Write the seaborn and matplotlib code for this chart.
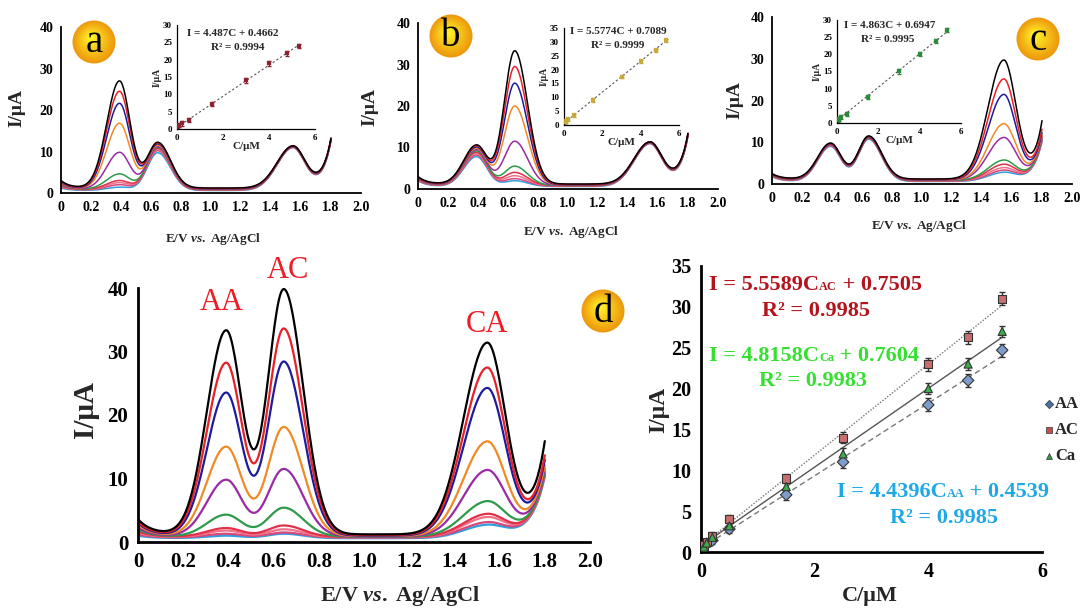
import numpy as np
import pandas as pd
import matplotlib
matplotlib.use("Agg")
import matplotlib.pyplot as plt
from matplotlib.patches import Circle
import seaborn as sns

# ---------------- data ----------------
curve_ids = ["c1", "c2", "c3", "c4", "c5", "c6", "c7", "c8", "c9", "c10"]
curve_colors = ["#000000", "#e8202a", "#1c1c9c", "#f08a24", "#9a2aa6",
                "#2e9a4a", "#e0304a", "#f07088", "#d84878", "#2f9fe0"]

# peak currents (µA) of each curve at AA (0.39 V), AC (0.645 V), CA (1.545 V)
a_AA = [27.0, 24.5, 21.6, 16.8, 9.8, 4.6, 3.0, 2.5, 2.0, 1.4]
a_AC = [12.2, 12.0, 11.8, 11.5, 11.2, 11.0, 10.8, 10.5, 10.2, 9.7]
a_CA = [11.2, 11.2, 11.1, 11.1, 11.0, 11.0, 10.9, 10.9, 10.8, 10.8]
a_start = [3.0, 2.8, 2.6, 2.4, 2.2, 2.0, 1.8, 1.6, 1.4, 1.2]
a_end = [13.2, 13.1, 13.0, 13.0, 12.9, 12.9, 12.8, 12.8, 12.7, 12.6]

b_AA = [10.6, 10.4, 10.1, 9.8, 9.5, 9.2, 8.9, 8.6, 8.2, 7.8]
b_AC = [33.3, 29.5, 25.5, 20.0, 11.5, 5.5, 4.0, 3.2, 2.5, 2.0]
b_CA = [11.2, 11.2, 11.1, 11.1, 11.0, 11.0, 10.9, 10.9, 10.8, 10.8]
b_start = [3.0, 2.9, 2.8, 2.7, 2.6, 2.5, 2.4, 2.3, 2.1, 2.0]
b_end = [13.4, 13.3, 13.2, 13.2, 13.1, 13.0, 13.0, 12.9, 12.9, 12.8]

c_AA = [9.8, 9.7, 9.6, 9.6, 9.5, 9.5, 9.4, 9.3, 9.2, 9.0]
c_AC = [11.5, 11.4, 11.3, 11.3, 11.2, 11.1, 11.0, 11.0, 10.9, 10.7]
c_CA = [29.5, 25.0, 21.3, 14.3, 11.0, 5.6, 4.6, 3.8, 3.2, 2.7]
c_start = [2.5, 2.4, 2.3, 2.2, 2.2, 2.1, 2.0, 1.9, 1.9, 1.8]
c_end = [15.0, 13.0, 12.2, 11.8, 11.4, 11.0, 10.8, 10.6, 10.4, 10.2]

d_AA = [33.3, 28.2, 23.5, 15.0, 9.8, 4.3, 2.2, 1.8, 1.3, 1.0]
d_AC = [39.8, 33.6, 28.4, 18.1, 11.5, 5.4, 2.6, 2.0, 1.5, 1.3]
d_CA = [31.2, 27.3, 24.1, 15.7, 11.2, 6.3, 4.3, 3.8, 3.0, 2.6]
d_start = [3.6, 3.2, 3.0, 2.7, 2.3, 2.0, 1.7, 1.5, 1.2, 1.0]
d_end = [15.7, 13.5, 12.8, 12.0, 11.5, 11.0, 10.8, 10.6, 10.5, 10.3]

floor_level = [1.2, 1.1, 1.0, 0.95, 0.9, 0.85, 0.8, 0.75, 0.7, 0.6]

# calibration plot (d, right)
conc = [0.05, 0.1, 0.2, 0.5, 1.5, 2.5, 4.0, 4.7, 5.3]
I_AA = [0.7, 1.0, 1.4, 2.8, 7.0, 11.0, 18.0, 21.0, 24.7]
I_AC = [0.8, 1.2, 2.0, 4.0, 9.0, 14.0, 23.0, 26.3, 31.0]
I_Ca = [0.6, 1.1, 1.8, 3.2, 8.0, 12.0, 20.0, 23.0, 27.0]
err_AA = [0.2, 0.3, 0.4, 0.5, 0.6, 0.7, 0.8, 0.8, 0.8]
err_AC = [0.2, 0.3, 0.4, 0.5, 0.6, 0.7, 0.8, 0.8, 0.8]
err_Ca = [0.2, 0.3, 0.4, 0.5, 0.6, 0.7, 0.7, 0.7, 0.7]
fit_AA = (4.4396, 0.4539)
fit_AC = (5.5589, 0.7505)
fit_Ca = (4.8158, 0.7604)

# insets
inset_conc = [0.05, 0.1, 0.2, 0.5, 1.5, 3.0, 4.0, 4.8, 5.3]
ins_a = [0.5, 1.2, 1.6, 2.5, 7.2, 14.0, 18.9, 21.8, 24.0]
ins_b = [1.0, 1.5, 2.0, 3.5, 9.0, 17.5, 23.0, 27.0, 30.5]
ins_c = [0.8, 1.2, 1.8, 2.7, 7.6, 15.0, 20.0, 24.0, 27.0]
ins_fit_a = (4.487, 0.4662)
ins_fit_b = (5.5774, 0.7089)
ins_fit_c = (4.863, 0.6947)

# ---------------- style ----------------
sns.set_style("white")
plt.rcParams["font.family"] = ["Liberation Serif", "DejaVu Serif"]
plt.rcParams["font.weight"] = "bold"
plt.rcParams["mathtext.fontset"] = "custom"
plt.rcParams["mathtext.rm"] = "Liberation Serif:bold"
plt.rcParams["mathtext.bf"] = "Liberation Serif:bold"
plt.rcParams["mathtext.it"] = "Liberation Serif:italic"

W, H = 1080, 610
fig = plt.figure(figsize=(10.8, 6.1), dpi=100)


def px_axes(x0, y0, x1, y1):
    return fig.add_axes([x0 / W, 1 - y1 / H, (x1 - x0) / W, (y1 - y0) / H])


E = np.linspace(0, 1.8, 400)


def peak(x, c, h, sl, sr):
    s = np.where(x < c, sl, sr)
    return h * np.exp(-(x - c) ** 2 / (2 * s ** 2))


def build_df(AA, AC, CA, start, end):
    rows = []
    for i, cid in enumerate(curve_ids):
        f = floor_level[i]
        base = f + (start[i] - f) * np.exp(-E / 0.06) + (end[i] - f) * np.exp((E - 1.8) / 0.06)
        y = (base + peak(E, 0.39, max(AA[i] - f, 0), 0.085, 0.07)
             + peak(E, 0.645, max(AC[i] - f, 0), 0.07, 0.085)
             + peak(E, 1.545, max(CA[i] - f, 0), 0.105, 0.08))
        rows.append(pd.DataFrame({"E": E, "I": y, "curve": cid}))
    return pd.concat(rows, ignore_index=True)


palette = dict(zip(curve_ids, curve_colors))
xt = np.round(np.arange(0, 2.01, 0.2), 1)
xtl = ["0" if v == 0 else f"{v:.1f}" for v in xt]


def style_volt(ax, fs, lw_sp, tl):
    ax.set_xlim(0, 2.0)
    ax.set_ylim(0, 40)
    ax.set_xticks(xt)
    ax.set_xticklabels(xtl)
    ax.set_yticks([0, 10, 20, 30, 40])
    ax.set_yticklabels(["0", "10", "20", "30", "40"])
    for s in ["top", "right"]:
        ax.spines[s].set_visible(False)
    for s in ["left", "bottom"]:
        ax.spines[s].set_color("black")
        ax.spines[s].set_linewidth(lw_sp)
    ax.tick_params(direction="out", length=tl, width=lw_sp, labelsize=fs, colors="black", pad=2)
    for lab in ax.get_xticklabels() + ax.get_yticklabels():
        lab.set_fontweight("bold")
    ax.set_xlabel("")
    ax.set_ylabel("")
    ax.patch.set_alpha(0)


def volt_panel(box, AA, AC, CA, start, end, fs, lw_sp, lw, tl):
    ax = px_axes(*box)
    df = build_df(AA, AC, CA, start, end)
    sns.lineplot(data=df, x="E", y="I", hue="curve", hue_order=curve_ids[::-1],
                 palette=palette, estimator=None, sort=False, legend=False,
                 linewidth=lw, ax=ax)
    style_volt(ax, fs, lw_sp, tl)
    return ax


ax_a = volt_panel((61, 27, 361, 193), a_AA, a_AC, a_CA, a_start, a_end, 10, 1.3, 1.1, 3.5)
ax_b = volt_panel((418, 23, 718, 189), b_AA, b_AC, b_CA, b_start, b_end, 10, 1.3, 1.1, 3.5)
ax_c = volt_panel((772, 17, 1072, 184), c_AA, c_AC, c_CA, c_start, c_end, 10, 1.3, 1.1, 3.5)
ax_d = volt_panel((138, 288, 590, 542), d_AA, d_AC, d_CA, d_start, d_end, 15, 2.0, 1.6, 5)


# ---------------- insets ----------------
def inset(box, yvals, fit, ymax, ystep, mcolor):
    ax = px_axes(*box)
    dfi = pd.DataFrame({"C": inset_conc, "I": yvals})
    cfit = np.array([0, 5.3])
    ax.plot(cfit, fit[0] * cfit + fit[1], ls=(0, (2, 2)), color="#555555", lw=0.8)
    ax.errorbar(inset_conc, yvals, yerr=[0.6] * len(yvals), fmt="none",
                ecolor=mcolor, elinewidth=0.8, capsize=1.2)
    sns.scatterplot(data=dfi, x="C", y="I", marker="s", s=5, color=mcolor,
                    edgecolor=mcolor, ax=ax, zorder=3)
    ax.set_xlim(0, 6)
    ax.set_ylim(0, ymax)
    ax.set_xticks([0, 2, 4, 6])
    ax.set_yticks(np.arange(0, ymax + 0.1, ystep))
    ax.set_xticklabels(["0", "2", "4", "6"])
    ax.set_yticklabels([str(int(v)) for v in np.arange(0, ymax + 0.1, ystep)])
    for s in ["top", "right"]:
        ax.spines[s].set_visible(False)
    for s in ["left", "bottom"]:
        ax.spines[s].set_color("black")
        ax.spines[s].set_linewidth(0.9)
    ax.tick_params(direction="out", length=2, width=0.8, labelsize=6.5, colors="black", pad=1.5)
    for lab in ax.get_xticklabels() + ax.get_yticklabels():
        lab.set_fontweight("bold")
    ax.set_xlabel("C/μM", fontsize=8, fontweight="bold", labelpad=0)
    ax.set_ylabel("I/μA", fontsize=7, fontweight="bold", labelpad=1)
    ax.patch.set_alpha(0)
    return ax


inset((177, 25, 315, 129), ins_a, ins_fit_a, 30, 5, "#8b2430")
inset((564, 28, 679, 125), ins_b, ins_fit_b, 35, 5, "#c8a83a")
inset((837, 20, 961, 123), ins_c, ins_fit_c, 30, 5, "#2e8a3a")

# ---------------- calibration panel ----------------
ax_e = px_axes(701, 266, 1042, 552)
cal = pd.DataFrame({
    "C": conc * 3,
    "I": I_AA + I_AC + I_Ca,
    "err": err_AA + err_AC + err_Ca,
    "analyte": ["AA"] * len(conc) + ["AC"] * len(conc) + ["Ca"] * len(conc),
})
cl = np.array([0, 5.3])
ax_e.plot(cl, fit_AC[0] * cl + fit_AC[1], ls=(0, (1, 1.2)), color="#777777", lw=1.0)
ax_e.plot(cl, fit_Ca[0] * cl + fit_Ca[1], ls="-", color="#555555", lw=1.0)
ax_e.plot(cl, fit_AA[0] * cl + fit_AA[1], ls=(0, (4, 2.5)), color="#777777", lw=1.0)
ax_e.errorbar(cal["C"], cal["I"], yerr=cal["err"], fmt="none", ecolor="#333333",
              elinewidth=1.0, capsize=2.5, zorder=2)
sns.scatterplot(data=cal, x="C", y="I", hue="analyte", style="analyte",
                hue_order=["AA", "AC", "Ca"],
                palette={"AA": "#7f9dcc", "AC": "#c87070", "Ca": "#3fae4a"},
                markers={"AA": "D", "AC": "s", "Ca": "^"}, s=34,
                edgecolor="#333333", linewidth=0.8, legend=False, ax=ax_e, zorder=3)
ax_e.set_xlim(0, 6)
ax_e.set_ylim(0, 35)
ax_e.set_xticks([0, 2, 4, 6])
ax_e.set_xticklabels(["0", "2", "4", "6"])
ax_e.set_yticks(np.arange(0, 36, 5))
ax_e.set_yticklabels([str(v) for v in range(0, 36, 5)])
for s in ["top", "right"]:
    ax_e.spines[s].set_visible(False)
for s in ["left", "bottom"]:
    ax_e.spines[s].set_color("black")
    ax_e.spines[s].set_linewidth(2.0)
ax_e.tick_params(direction="out", length=5, width=2, labelsize=14.5, colors="black", pad=2)
for lab in ax_e.get_xticklabels() + ax_e.get_yticklabels():
    lab.set_fontweight("bold")
ax_e.set_xlabel("")
ax_e.set_ylabel("")
ax_e.patch.set_alpha(0)

# ---------------- overlay (labels, badges, annotations) ----------------
ov = fig.add_axes([0, 0, 1, 1], zorder=10)
ov.set_xlim(0, W)
ov.set_ylim(H, 0)
ov.axis("off")

# axis titles
for (x, y, fs) in [(17, 108, 14), (370, 107, 14), (735, 100, 14)]:
    ov.text(x, y, "I/μA", rotation=90, ha="center", va="center", fontsize=fs, fontweight="bold")
ov.text(86, 410, "I/μA", rotation=90, ha="center", va="center", fontsize=21, fontweight="bold")
ov.text(659, 410, "I/μA", rotation=90, ha="center", va="center", fontsize=17, fontweight="bold")

xl = r"E/V $\mathit{vs.}$ Ag/AgCl"
ov.text(213, 239, xl, ha="center", va="center", fontsize=9.5, fontweight="bold")
ov.text(571, 232, xl, ha="center", va="center", fontsize=9.5, fontweight="bold")
ov.text(919, 226, xl, ha="center", va="center", fontsize=9.5, fontweight="bold")
ov.text(400, 596, xl, ha="center", va="center", fontsize=16, fontweight="bold")
ov.text(870, 596, "C/μM", ha="center", va="center", fontsize=16, fontweight="bold")

# inset equations
for (x, y, t) in [(233, 33, "I = 4.487C + 0.4662"), (238, 48, "R² = 0.9994"),
                  (618, 32, "I = 5.5774C + 0.7089"), (618, 45, "R² = 0.9999"),
                  (890, 25, "I = 4.863C + 0.6947"), (888, 39, "R² = 0.9995")]:
    ov.text(x, y, t, ha="center", va="center", fontsize=8, fontweight="bold")

# peak labels
for (x, y, t) in [(222, 302, "AA"), (288, 270, "AC"), (487, 325, "CA")]:
    ov.text(x, y, t, ha="center", va="center", fontsize=22, fontweight="normal", color="#ee1c25")


# calibration equations with small subscripts
def eq_text(x_left, y, pre, sub, post, color, fs=16):
    t1 = ov.text(x_left, y, pre, ha="left", va="center", fontsize=fs, fontweight="bold", color=color)
    t2 = ov.annotate(sub, xy=(1, 0.08), xycoords=t1, ha="left", va="bottom",
                     fontsize=fs * 0.55, fontweight="bold", color=color)
    ov.annotate(post, xy=(1, 0), xycoords=t2, xytext=(0, -1.3), textcoords="offset points",
                ha="left", va="bottom", fontsize=fs, fontweight="bold", color=color)


eq_text(709, 285, "I = 5.5589C", "AC", " + 0.7505", "#b5121b")
ov.text(816, 311, "R² = 0.9985", ha="center", va="center", fontsize=16, fontweight="bold", color="#b5121b")
eq_text(709, 356, "I = 4.8158C", "Ca", " + 0.7604", "#35e030")
ov.text(813, 381, "R² = 0.9983", ha="center", va="center", fontsize=16, fontweight="bold", color="#35e030")
eq_text(837, 492, "I = 4.4396C", "AA", " + 0.4539", "#1ea8e8")
ov.text(944, 518, "R² = 0.9985", ha="center", va="center", fontsize=16, fontweight="bold", color="#1ea8e8")

# legend at the right edge
for (y, m, fc, t) in [(404, "D", "#4a6fa5", "AA"), (430, "s", "#c0504d", "AC"), (456, "^", "#2e9e3e", "Ca")]:
    ov.scatter([1049], [y], marker=m, s=18, color=fc, edgecolor="#333333", linewidth=0.5)
    ov.text(1055, y, t, ha="left", va="center", fontsize=12, fontweight="bold")

# yellow badges
for (cx, cy, t) in [(94, 42, "a"), (451, 36, "b"), (1038, 39, "c"), (603, 311, "d")]:
    n = 12
    for k in range(n):
        frac = k / (n - 1)
        r = 21.5 * (1 - 0.85 * frac)
        col = (np.array([0.93, 0.60, 0.05]) * (1 - frac) + np.array([1.0, 0.93, 0.15]) * frac)
        ov.add_patch(Circle((cx - 3 * frac, cy - 4 * frac), r, facecolor=col, edgecolor="none"))
    ov.text(cx, cy + 1, t, ha="center", va="center", fontsize=28, fontweight="normal", color="black")

fig.savefig("out.png", dpi=100)
